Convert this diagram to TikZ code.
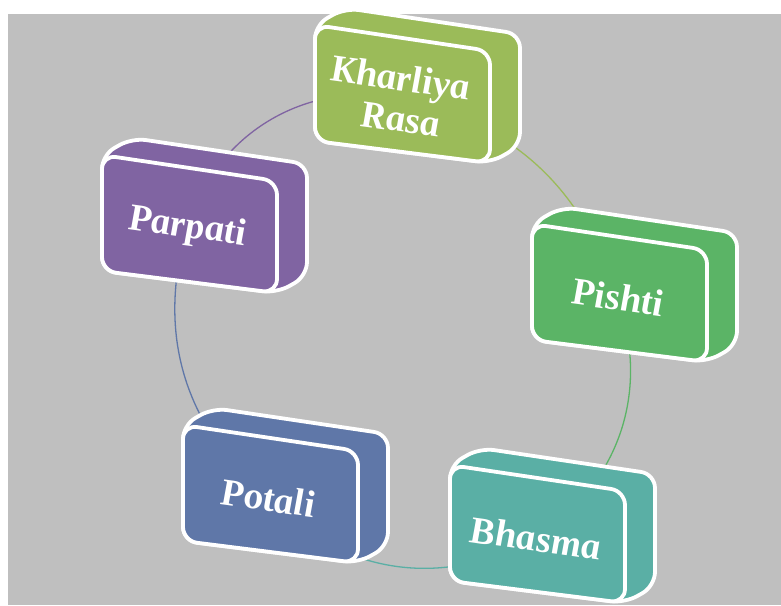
\documentclass[tikz,border=0pt]{standalone}
\usepackage{fontspec}
\setmainfont{Liberation Serif}

\pgfdeclarelayer{bg}
\pgfsetlayers{bg,main}

\definecolor{kharliyaC}{HTML}{9BBB59}
\definecolor{pishtiC}{HTML}{5BB466}
\definecolor{bhasmaC}{HTML}{5AAFA5}
\definecolor{potaliC}{HTML}{5F77A8}
\definecolor{parpatiC}{HTML}{8064A2}
\definecolor{canvasC}{HTML}{BFBFBF}

\tikzset{
  boxline/.style={draw=white, line width=3.8pt, rounded corners=14pt, line join=round},
  boxtext/.style={text=white, font=\fontsize{38.5}{41}\selectfont\bfseries\itshape,
    align=center, inner sep=0pt, yslant=-0.14},
  cycleline/.style={line width=1.3pt},
}

% #1 name, #2 front top-left corner, #3 colour, #4 label
\newcommand{\herbbox}[4]{%
  \begin{scope}[shift={(#2)}]
    \filldraw[boxline, fill=#3] (0,58) -- (0,116) -- (175,138) -- (205,121)
      -- (205,9) -- (30,-17) -- (0,0) -- cycle;
    \filldraw[boxline, fill=#3] (0,58) -- (0,116) -- (175,138) -- (175,26)
      -- (0,0) -- cycle;
    \node[boxtext] (#1) at (85,73) {#4};
  \end{scope}}

\begin{document}
\begin{tikzpicture}[x=1pt,y=-1pt]
\useasboundingbox (0,0) rectangle (781,605);

\herbbox{kharliya}{315,25}{kharliyaC}{Kharliya\\Rasa}
\herbbox{pishti}{532,224}{pishtiC}{Pishti}
\herbbox{bhasma}{450,465}{bhasmaC}{Bhasma}
\herbbox{potali}{183,425}{potaliC}{Potali}
\herbbox{parpati}{102,155}{parpatiC}{Parpati}

% ring behind the boxes
\begin{pgfonlayer}{bg}
\fill[canvasC] (8,14) rectangle (781,605);
\draw[cycleline, parpatiC] (parpati.center) to[bend left=42] (kharliya.center);
\draw[cycleline, kharliyaC] (kharliya.center) to[bend left=30] (pishti.center);
\draw[cycleline, pishtiC] (pishti.center) to[bend left=39] (bhasma.center);
\draw[cycleline, bhasmaC] (bhasma.center) to[bend left=38] (potali.center);
\draw[cycleline, potaliC] (potali.center) to[bend left=33] (parpati.center);
\end{pgfonlayer}
\end{tikzpicture}
\end{document}
